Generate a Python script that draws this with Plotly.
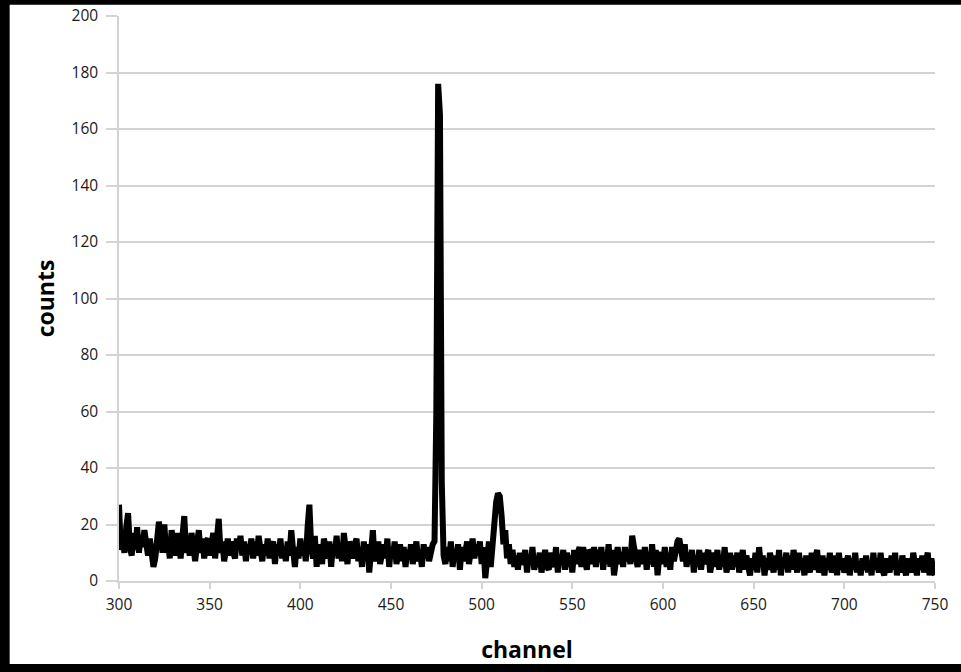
import plotly.graph_objects as go

# Spectrum: counts per channel, channels 300..750
channel_start = 300
counts = [
    27, 11, 15, 10, 19, 24, 12, 9, 17, 11,
    19, 10, 16, 12, 18, 11, 9, 15, 10, 5,
    8, 14, 21, 16, 10, 20, 10, 15, 8, 18,
    12, 9, 17, 11, 8, 16, 23, 10, 15, 9,
    17, 12, 7, 13, 18, 10, 15, 8, 14, 15,
    9, 13, 17, 8, 15, 22, 10, 14, 7, 13,
    15, 9, 14, 10, 8, 15, 11, 16, 9, 14,
    7, 13, 10, 15, 8, 14, 9, 16, 10, 7,
    13, 9, 15, 8, 12, 14, 6, 13, 9, 15,
    8, 12, 7, 14, 9, 18, 11, 5, 12, 8,
    15, 9, 13, 7, 19, 27, 12, 8, 16, 5,
    13, 9, 6, 15, 10, 8, 14, 5, 13, 9,
    16, 8, 12, 7, 17, 11, 6, 14, 9, 8,
    13, 15, 7, 12, 5, 14, 8, 13, 3, 11,
    18, 7, 12, 14, 6, 11, 13, 8, 15, 5,
    12, 8, 14, 6, 11, 13, 7, 12, 5, 11,
    8, 13, 6, 12, 14, 7, 11, 5, 13, 8,
    12, 7, 11, 13, 14, 60, 176, 165, 35, 9,
    6, 12, 7, 14, 5, 11, 8, 13, 4, 12,
    7, 11, 14, 6, 12, 15, 8, 13, 9, 14,
    6, 12, 1, 10, 14, 5, 13, 22, 28, 31,
    30, 23, 13, 18, 8, 13, 6, 11, 5, 9,
    4, 10, 6, 7, 11, 3, 9, 6, 12, 4,
    8, 5, 10, 3, 9, 11, 5, 4, 10, 6,
    5, 12, 3, 9, 6, 11, 4, 10, 5, 9,
    3, 11, 6, 10, 12, 5, 12, 7, 4, 11,
    10, 6, 12, 5, 11, 7, 12, 4, 10, 6,
    13, 5, 11, 2, 9, 12, 6, 10, 5, 12,
    7, 11, 6, 16, 12, 8, 5, 11, 7, 6,
    12, 4, 10, 6, 13, 5, 11, 2, 9, 10,
    6, 12, 5, 10, 4, 12, 7, 11, 14, 15,
    12, 7, 13, 5, 10, 6, 11, 3, 9, 5,
    11, 4, 10, 6, 9, 11, 3, 8, 10, 5,
    11, 4, 9, 5, 12, 3, 8, 10, 4, 9,
    5, 10, 3, 8, 11, 4, 9, 5, 2, 8,
    4, 10, 3, 12, 5, 9, 2, 8, 4, 10,
    5, 3, 9, 4, 11, 2, 8, 5, 10, 3,
    9, 4, 11, 5, 3, 10, 4, 8, 2, 9,
    5, 3, 10, 4, 8, 11, 3, 7, 9, 2,
    8, 4, 10, 3, 7, 9, 2, 10, 4, 8,
    3, 7, 9, 2, 8, 4, 10, 3, 7, 2,
    8, 4, 9, 3, 7, 2, 10, 4, 8, 3,
    10, 4, 2, 8, 5, 3, 9, 4, 10, 2,
    7, 3, 9, 4, 2, 8, 5, 3, 10, 4,
    2, 8, 4, 9, 3, 7, 10, 2, 8, 4,
    2,
]
channels = [channel_start + i for i in range(len(counts))]

x_ticks = [300, 350, 400, 450, 500, 550, 600, 650, 700, 750]
y_ticks = [0, 20, 40, 60, 80, 100, 120, 140, 160, 180, 200]

GRID = "#d3d3d3"
TICK_FONT = dict(family="Open Sans", size=15.5, color="#1a1a1a")
TITLE_FONT = dict(family="Open Sans", size=23, color="#000000")

fig = go.Figure()
fig.add_trace(go.Scatter(
    x=channels, y=counts, mode="lines",
    line=dict(color="#000000", width=6),
    showlegend=False, hoverinfo="x+y",
))

# black frame along the left, top and bottom edges of the page
frame = dict(type="rect", xref="paper", yref="paper", fillcolor="#000000",
             line=dict(width=0), layer="below")
fig.add_shape(x0=-0.2, x1=-0.134, y0=-0.2, y1=1.1, **frame)
fig.add_shape(x0=-0.2, x1=1.2, y0=1.02, y1=1.1, **frame)
fig.add_shape(x0=-0.2, x1=1.2, y0=-0.2, y1=-0.147, **frame)

fig.update_layout(
    width=961, height=672,
    margin=dict(l=119, r=26, t=16, b=91),
    paper_bgcolor="#ffffff",
    plot_bgcolor="#ffffff",
    xaxis=dict(
        range=[300, 750], tickvals=x_ticks, ticktext=[str(v) for v in x_ticks],
        showgrid=False, zeroline=False, automargin=False,
        showline=True, linecolor=GRID, linewidth=1.5,
        ticks="outside", ticklen=6, tickcolor=GRID, tickwidth=1.5,
        ticklabelstandoff=3,
        tickfont=TICK_FONT,
        title=dict(text="<b>channel</b>", font=TITLE_FONT, standoff=28),
    ),
    yaxis=dict(
        range=[0, 200], tickvals=y_ticks, ticktext=[str(v) for v in y_ticks],
        showgrid=True, gridcolor=GRID, gridwidth=1.8, zeroline=False,
        automargin=False,
        showline=True, linecolor=GRID, linewidth=1.5,
        ticks="outside", ticklen=11, tickcolor=GRID, tickwidth=1.5,
        ticklabelstandoff=5,
        tickfont=TICK_FONT,
        title=dict(text="<b>counts</b>", font=TITLE_FONT, standoff=11),
    ),
)

# keep the page free of scrollbars so the full figure width is visible
fig.write_html(
    "out.html",
    post_script="document.documentElement.style.overflow='hidden';"
                "document.body.style.overflow='hidden';",
)
